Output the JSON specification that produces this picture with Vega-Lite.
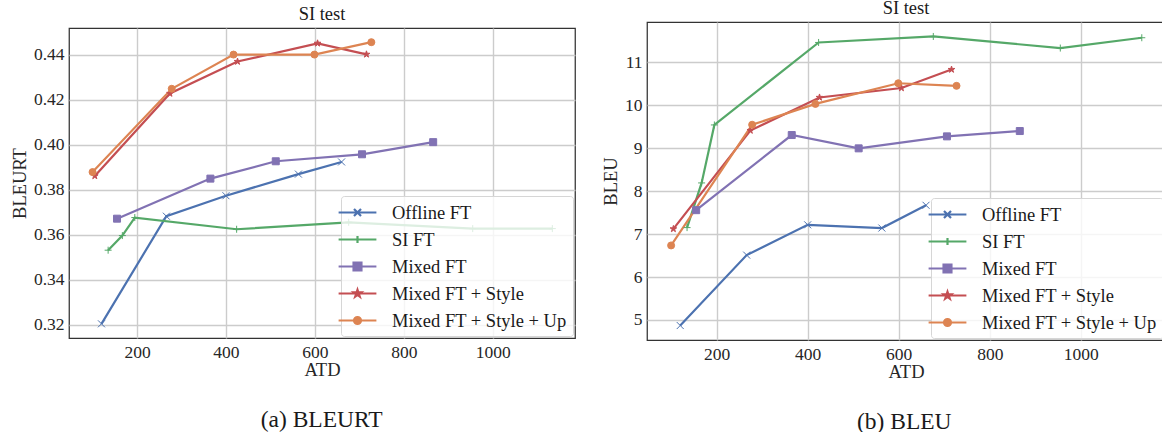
{
  "$schema": "https://vega.github.io/schema/vega-lite/v6.json",
  "background": "white",
  "padding": {"left": 9, "top": -3, "right": 0, "bottom": 0},
  "spacing": 24,
  "datasets": {
    "d": [
      {"series": "Offline FT", "atd": 120, "bleurt": 0.3204, "bleu": 4.87},
      {"series": "Offline FT", "atd": 266, "bleurt": 0.3682, "bleu": 6.51},
      {"series": "Offline FT", "atd": 400, "bleurt": 0.3773, "bleu": 7.215},
      {"series": "Offline FT", "atd": 563, "bleurt": 0.3869, "bleu": 7.14},
      {"series": "Offline FT", "atd": 660, "bleurt": 0.3923, "bleu": 7.67},
      {"series": "SI FT", "atd": 135, "bleurt": 0.3531, "bleu": 7.15},
      {"series": "SI FT", "atd": 167, "bleurt": 0.3596, "bleu": 8.19},
      {"series": "SI FT", "atd": 195, "bleurt": 0.3676, "bleu": 9.54},
      {"series": "SI FT", "atd": 424, "bleurt": 0.3624, "bleu": 11.46},
      {"series": "SI FT", "atd": 676, "bleurt": 0.3655, "bleu": 11.6},
      {"series": "SI FT", "atd": 955, "bleurt": 0.3627, "bleu": 11.33},
      {"series": "SI FT", "atd": 1134, "bleurt": 0.3627, "bleu": 11.57},
      {"series": "Mixed FT", "atd": 155, "bleurt": 0.3671, "bleu": 7.556},
      {"series": "Mixed FT", "atd": 365, "bleurt": 0.3849, "bleu": 9.305},
      {"series": "Mixed FT", "atd": 512, "bleurt": 0.3926, "bleu": 8.995},
      {"series": "Mixed FT", "atd": 706, "bleurt": 0.3957, "bleu": 9.274},
      {"series": "Mixed FT", "atd": 866, "bleurt": 0.4011, "bleu": 9.398},
      {"series": "Mixed FT + Style", "atd": 105, "bleurt": 0.3861, "bleu": 7.12},
      {"series": "Mixed FT + Style", "atd": 274, "bleurt": 0.4227, "bleu": 9.41},
      {"series": "Mixed FT + Style", "atd": 426, "bleurt": 0.4369, "bleu": 10.18},
      {"series": "Mixed FT + Style", "atd": 606, "bleurt": 0.445, "bleu": 10.4},
      {"series": "Mixed FT + Style", "atd": 716, "bleurt": 0.4401, "bleu": 10.83},
      {"series": "Mixed FT + Style + Up", "atd": 100, "bleurt": 0.3878, "bleu": 6.735},
      {"series": "Mixed FT + Style + Up", "atd": 278, "bleurt": 0.4248, "bleu": 9.545},
      {"series": "Mixed FT + Style + Up", "atd": 417, "bleurt": 0.44, "bleu": 10.03},
      {"series": "Mixed FT + Style + Up", "atd": 599, "bleurt": 0.44, "bleu": 10.51},
      {"series": "Mixed FT + Style + Up", "atd": 727, "bleurt": 0.4455, "bleu": 10.45}
    ]
  },
  "resolve": {"scale": {"color": "independent"}},
  "hconcat": [
    {
      "title": {"text": "(a) BLEURT", "orient": "bottom", "anchor": "middle", "fontSize": 23.5, "offset": 28, "dx": 29},
      "resolve": {"scale": {"color": "independent"}},
      "spacing": -20,
      "vconcat": [
        {
          "width": 506,
          "height": 1,
          "data": {"values": []},
          "mark": {"type": "point"},
          "view": {"stroke": null}
        },
        {
          "width": 506,
          "height": 310,
          "title": {"text": "SI test"},
          "data": {"name": "d"},
          "layer": [
            {
              "mark": {"type": "line", "strokeWidth": 2.2},
              "encoding": {
                "x": {"field": "atd", "type": "quantitative", "scale": {"domain": [47, 1185], "nice": false, "zero": false}, "axis": {"values": [200, 400, 600, 800, 1000], "format": "d", "title": "ATD"}},
                "y": {"field": "bleurt", "type": "quantitative", "scale": {"domain": [0.3141, 0.4518], "nice": false, "zero": false}, "axis": {"values": [0.32, 0.34, 0.36, 0.38, 0.4, 0.42, 0.44], "format": ".2f", "title": "BLEURT"}},
                "color": {
                  "field": "series", "type": "nominal",
                  "scale": {"domain": ["Offline FT", "SI FT", "Mixed FT", "Mixed FT + Style", "Mixed FT + Style + Up"], "range": ["#4C72B0", "#55A868", "#8172B3", "#C44E52", "#DD8452"]},
                  "legend": {
                    "orient": "bottom-right", "offset": 2, "title": null,
                    "encode": {"symbols": {"update": {
                      "shape": {"signal": "datum.value == 'Offline FT' ? 'M-2.1,0H2.1M-0.39,-0.39L0.39,0.39M-0.39,0.39L0.39,-0.39' : datum.value == 'SI FT' ? 'M-2.1,0H2.1M0,-0.39V0.39' : datum.value == 'Mixed FT' ? 'M-2.1,0H2.1M-0.44,-0.44H0.44V0.44H-0.44Z' : datum.value == 'Mixed FT + Style' ? 'M-2.1,0H2.1M0,-0.42L0.094,-0.129L0.4,-0.13L0.152,0.049L0.247,0.34L0,0.16L-0.247,0.34L-0.152,0.049L-0.4,-0.13L-0.094,-0.129Z' : 'M-2.1,0H2.1M-0.39,0A0.39,0.39,0,1,0,0.39,0A0.39,0.39,0,1,0,-0.39,0Z'"},
                      "fill": {"signal": "datum.value == 'Offline FT' ? '#4C72B0' : datum.value == 'SI FT' ? '#55A868' : datum.value == 'Mixed FT' ? '#8172B3' : datum.value == 'Mixed FT + Style' ? '#C44E52' : '#DD8452'"},
                      "stroke": {"signal": "datum.value == 'Offline FT' ? '#4C72B0' : datum.value == 'SI FT' ? '#55A868' : datum.value == 'Mixed FT' ? '#8172B3' : datum.value == 'Mixed FT + Style' ? '#C44E52' : '#DD8452'"},
                      "strokeWidth": {"value": 2.2},
                      "size": {"value": 324},
                      "opacity": {"value": 1}
                    }}}
                  }
                }
              }
            },
            {
              "mark": {"type": "point", "filled": true, "opacity": 1, "strokeWidth": 1},
              "encoding": {
                "x": {"field": "atd", "type": "quantitative"},
                "y": {"field": "bleurt", "type": "quantitative"},
                "color": {"field": "series", "type": "nominal", "legend": null},
                "stroke": {"field": "series", "type": "nominal", "legend": null, "scale": {"domain": ["Offline FT", "SI FT", "Mixed FT", "Mixed FT + Style", "Mixed FT + Style + Up"], "range": ["#4C72B0", "#55A868", "#8172B3", "#C44E52", "#DD8452"]}},
                "shape": {"field": "series", "type": "nominal", "legend": null, "scale": {"domain": ["Offline FT", "SI FT", "Mixed FT", "Mixed FT + Style", "Mixed FT + Style + Up"], "range": ["M-1,-1L1,1M-1,1L1,-1", "M-1,0H1M0,-1V1", "square", "M0,-1L0.2234,-0.3074L0.9511,-0.309L0.3614,0.1174L0.5878,0.809L0,0.38L-0.5878,0.809L-0.3614,0.1174L-0.9511,-0.309L-0.2234,-0.3074Z", "circle"]}},
                "size": {"field": "series", "type": "nominal", "legend": null, "scale": {"domain": ["Offline FT", "SI FT", "Mixed FT", "Mixed FT + Style", "Mixed FT + Style + Up"], "range": [49, 49, 64, 72, 56]}}
              }
            }
          ]
        }
      ]
    },
    {
      "title": {"text": "(b) BLEU", "orient": "bottom", "anchor": "middle", "fontSize": 23.5, "offset": 28, "dx": 21},
      "resolve": {"scale": {"color": "independent"}},
      "spacing": 0,
      "vconcat": [
        {
          "width": 518,
          "height": 318,
          "title": {"text": "SI test"},
          "data": {"name": "d"},
          "layer": [
            {
              "mark": {"type": "line", "strokeWidth": 2.2},
              "encoding": {
                "x": {"field": "atd", "type": "quantitative", "scale": {"domain": [47, 1185], "nice": false, "zero": false}, "axis": {"values": [200, 400, 600, 800, 1000], "format": "d", "title": "ATD"}},
                "y": {"field": "bleu", "type": "quantitative", "scale": {"domain": [4.5335, 11.9365], "nice": false, "zero": false}, "axis": {"values": [5, 6, 7, 8, 9, 10, 11], "format": "d", "title": "BLEU"}},
                "color": {
                  "field": "series", "type": "nominal",
                  "scale": {"domain": ["Offline FT", "SI FT", "Mixed FT", "Mixed FT + Style", "Mixed FT + Style + Up"], "range": ["#4C72B0", "#55A868", "#8172B3", "#C44E52", "#DD8452"]},
                  "legend": {
                    "orient": "bottom-right", "offset": 2, "title": null,
                    "encode": {"symbols": {"update": {
                      "shape": {"signal": "datum.value == 'Offline FT' ? 'M-2.1,0H2.1M-0.39,-0.39L0.39,0.39M-0.39,0.39L0.39,-0.39' : datum.value == 'SI FT' ? 'M-2.1,0H2.1M0,-0.39V0.39' : datum.value == 'Mixed FT' ? 'M-2.1,0H2.1M-0.44,-0.44H0.44V0.44H-0.44Z' : datum.value == 'Mixed FT + Style' ? 'M-2.1,0H2.1M0,-0.42L0.094,-0.129L0.4,-0.13L0.152,0.049L0.247,0.34L0,0.16L-0.247,0.34L-0.152,0.049L-0.4,-0.13L-0.094,-0.129Z' : 'M-2.1,0H2.1M-0.39,0A0.39,0.39,0,1,0,0.39,0A0.39,0.39,0,1,0,-0.39,0Z'"},
                      "fill": {"signal": "datum.value == 'Offline FT' ? '#4C72B0' : datum.value == 'SI FT' ? '#55A868' : datum.value == 'Mixed FT' ? '#8172B3' : datum.value == 'Mixed FT + Style' ? '#C44E52' : '#DD8452'"},
                      "stroke": {"signal": "datum.value == 'Offline FT' ? '#4C72B0' : datum.value == 'SI FT' ? '#55A868' : datum.value == 'Mixed FT' ? '#8172B3' : datum.value == 'Mixed FT + Style' ? '#C44E52' : '#DD8452'"},
                      "strokeWidth": {"value": 2.2},
                      "size": {"value": 324},
                      "opacity": {"value": 1}
                    }}}
                  }
                }
              }
            },
            {
              "mark": {"type": "point", "filled": true, "opacity": 1, "strokeWidth": 1},
              "encoding": {
                "x": {"field": "atd", "type": "quantitative"},
                "y": {"field": "bleu", "type": "quantitative"},
                "color": {"field": "series", "type": "nominal", "legend": null},
                "stroke": {"field": "series", "type": "nominal", "legend": null, "scale": {"domain": ["Offline FT", "SI FT", "Mixed FT", "Mixed FT + Style", "Mixed FT + Style + Up"], "range": ["#4C72B0", "#55A868", "#8172B3", "#C44E52", "#DD8452"]}},
                "shape": {"field": "series", "type": "nominal", "legend": null, "scale": {"domain": ["Offline FT", "SI FT", "Mixed FT", "Mixed FT + Style", "Mixed FT + Style + Up"], "range": ["M-1,-1L1,1M-1,1L1,-1", "M-1,0H1M0,-1V1", "square", "M0,-1L0.2234,-0.3074L0.9511,-0.309L0.3614,0.1174L0.5878,0.809L0,0.38L-0.5878,0.809L-0.3614,0.1174L-0.9511,-0.309L-0.2234,-0.3074Z", "circle"]}},
                "size": {"field": "series", "type": "nominal", "legend": null, "scale": {"domain": ["Offline FT", "SI FT", "Mixed FT", "Mixed FT + Style", "Mixed FT + Style + Up"], "range": [49, 49, 64, 72, 56]}}
              }
            }
          ]
        }
      ]
    }
  ],
  "config": {
    "font": "Liberation Serif",
    "view": {"stroke": "#333333", "strokeWidth": 1.25},
    "title": {"font": "Liberation Serif", "fontSize": 18.5, "fontWeight": "normal", "color": "#1a1a1a", "offset": 5},
    "axis": {
      "domain": false, "ticks": false,
      "grid": true, "gridColor": "#cccccc", "gridWidth": 1.4,
      "labelFont": "Liberation Serif", "labelFontSize": 17.5, "labelColor": "#262626", "labelPadding": 4,
      "titleFont": "Liberation Serif", "titleFontSize": 18.5, "titleFontWeight": "normal", "titleColor": "#262626"
    },
    "axisX": {"titlePadding": 0, "labelPadding": 5},
    "axisY": {"titlePadding": 4, "labelPadding": 5},
    "legend": {
      "symbolSize": 324, "labelOffset": 24, "rowPadding": 7, "padding": 6,
      "fillColor": "rgba(255,255,255,0.8)", "strokeColor": "#d6d6d6", "cornerRadius": 3,
      "labelFont": "Liberation Serif", "labelFontSize": 18.5, "labelColor": "#1a1a1a", "labelLimit": 300
    }
  }
}
